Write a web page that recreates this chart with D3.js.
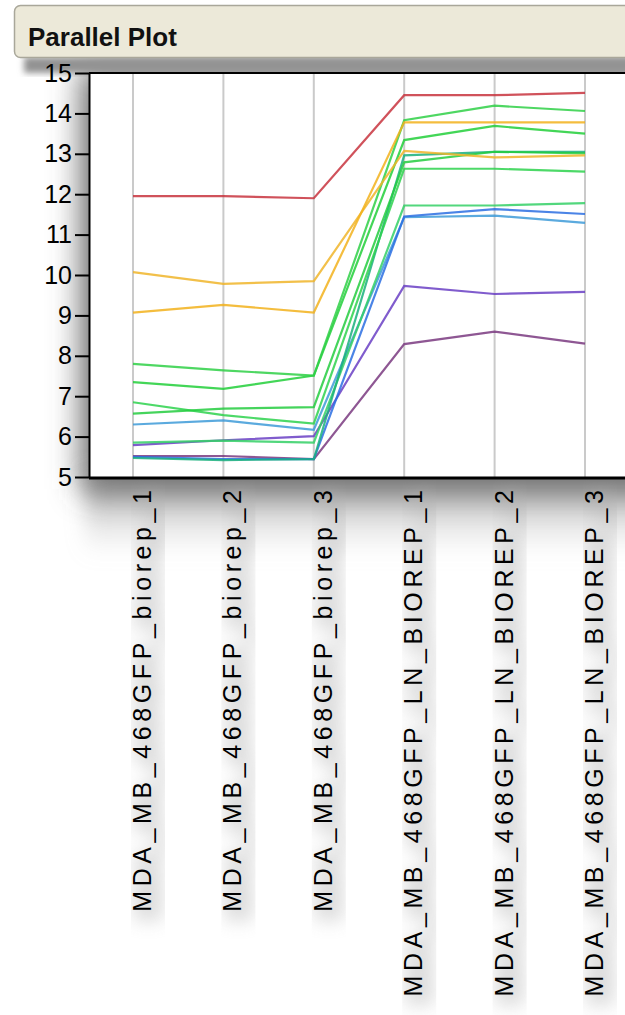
<!DOCTYPE html>
<html>
<head>
<meta charset="utf-8">
<script src="https://cdn.jsdelivr.net/npm/d3@7"></script>
<style>
  html, body { margin: 0; padding: 0; background: #fff; }
  svg { display: block; font-family: "Liberation Sans", Arial, sans-serif; }
</style>
</head>
<body>
<div class="chart"></div>
<script>
// Columns of the parallel plot
var columns = [
    "MDA_MB_468GFP_biorep_1",
    "MDA_MB_468GFP_biorep_2",
    "MDA_MB_468GFP_biorep_3",
    "MDA_MB_468GFP_LN_BIOREP_1",
    "MDA_MB_468GFP_LN_BIOREP_2",
    "MDA_MB_468GFP_LN_BIOREP_3"
];

// One row of values per line
var redRow        = [11.95, 11.95, 11.90, 14.45, 14.45, 14.51];
var orangeRowA    = [10.07, 9.78, 9.85, 13.07, 12.91, 12.96];
var orangeRowB    = [9.07, 9.26, 9.07, 13.78, 13.78, 13.78];
var greenRow1     = [7.80, 7.64, 7.51, 13.83, 14.19, 14.06];
var greenRow2     = [7.35, 7.18, 7.51, 13.34, 13.69, 13.50];
var greenRow3     = [6.85, 6.53, 6.32, 12.63, 12.63, 12.56];
var greenRow4     = [6.57, 6.69, 6.73, 12.79, 13.05, 13.01];
var greenRow5     = [5.85, 5.90, 5.85, 11.72, 11.72, 11.78];
var tealRow       = [5.47, 5.42, 5.44, 12.96, 13.05, 13.05];
var lightBlueRow  = [6.30, 6.40, 6.17, 11.43, 11.47, 11.29];
var blueRow       = [5.50, 5.44, 5.44, 11.45, 11.63, 11.51];
var purpleRow     = [5.79, 5.91, 6.01, 9.73, 9.53, 9.58];
var darkPurpleRow = [5.52, 5.52, 5.44, 8.29, 8.60, 8.30];

var yTicks = [5, 6, 7, 8, 9, 10, 11, 12, 13, 14, 15];

var rows = [
    {name: "darkPurple", values: darkPurpleRow},
    {name: "purple", values: purpleRow},
    {name: "lightBlue", values: lightBlueRow},
    {name: "blue", values: blueRow},
    {name: "green5", values: greenRow5},
    {name: "teal", values: tealRow},
    {name: "green3", values: greenRow3},
    {name: "green4", values: greenRow4},
    {name: "green2", values: greenRow2},
    {name: "green1", values: greenRow1},
    {name: "orangeA", values: orangeRowA},
    {name: "orangeB", values: orangeRowB},
    {name: "red", values: redRow}
];

var color = d3.scaleOrdinal()
    .domain(["red", "orangeA", "orangeB", "green1", "green2", "green3", "green4", "green5", "teal", "lightBlue", "blue", "purple", "darkPurple"])
    .range(["#c8343e", "#f0b52a", "#f2b21c", "#2fd047", "#22cf3a", "#2ed24e", "#25cc40", "#34d066", "#1ab07c", "#3e9bd8", "#2b6fe2", "#6a40c4", "#7a3a80"]);

var svgWidth = 625;
var svgHeight = 1015;

// plot frame, runs off the right edge like the original window
var frame = {left: 89, top: 73, right: 720, bottom: 477};

var svg = d3.select(".chart")
    .append("svg")
    .attr("width", svgWidth)
    .attr("height", svgHeight);

var defs = svg.append("defs");
defs.append("filter").attr("id", "blurBig")
    .attr("x", "-20%").attr("y", "-20%").attr("width", "140%").attr("height", "140%")
    .append("feGaussianBlur").attr("stdDeviation", 16);
defs.append("filter").attr("id", "blurSmall")
    .attr("x", "-20%").attr("y", "-20%").attr("width", "140%").attr("height", "140%")
    .append("feGaussianBlur").attr("stdDeviation", 3);
defs.append("filter").attr("id", "blurBand")
    .attr("x", "-20%").attr("y", "-40%").attr("width", "140%").attr("height", "180%")
    .append("feGaussianBlur").attr("stdDeviation", 10);
defs.append("filter").attr("id", "blurLabel")
    .attr("x", "-50%").attr("y", "-10%").attr("width", "200%").attr("height", "120%")
    .append("feGaussianBlur").attr("stdDeviation", 9);

var bandGrad = defs.append("linearGradient")
    .attr("id", "bandGrad")
    .attr("x1", 0).attr("y1", 0).attr("x2", 0).attr("y2", 1);
bandGrad.append("stop").attr("offset", "0%").attr("stop-color", "#6e6e6e").attr("stop-opacity", 0.75);
bandGrad.append("stop").attr("offset", "35%").attr("stop-color", "#8a8a8a").attr("stop-opacity", 0.45);
bandGrad.append("stop").attr("offset", "100%").attr("stop-color", "#bbbbbb").attr("stop-opacity", 0);

// Scales
var x = d3.scalePoint()
    .domain(columns)
    .range([133, 585]);

var y = d3.scaleLinear()
    .domain([5, 15])
    .range([frame.bottom, frame.top]);

// drop shadow behind the plot frame
svg.append("rect")
    .attr("x", frame.left - 6)
    .attr("y", frame.top - 4)
    .attr("width", frame.right - frame.left)
    .attr("height", frame.bottom - frame.top + 16)
    .attr("fill", "#5a5a5a")
    .attr("filter", "url(#blurBig)");

// gray band under the x axis
svg.append("rect")
    .attr("x", 85)
    .attr("y", frame.bottom - 6)
    .attr("width", 700)
    .attr("height", 86)
    .attr("fill", "url(#bandGrad)")
    .attr("filter", "url(#blurBand)");

// darker band between the title bar and the plot
svg.append("rect")
    .attr("x", 24)
    .attr("y", 57)
    .attr("width", 700)
    .attr("height", 16)
    .attr("fill", "#939393")
    .attr("filter", "url(#blurSmall)");

// soft shadows behind the column labels
var labelSize = 25;
var labelLetterSpacing = 4.6;
svg.append("g")
    .selectAll("text")
    .data(columns)
    .enter()
    .append("text")
    .attr("transform", d => `translate(${x(d) + 24}, ${496 - labelLetterSpacing}) rotate(-90)`)
    .attr("text-anchor", "end")
    .style("font-size", labelSize + "px")
    .style("letter-spacing", labelLetterSpacing + "px")
    .attr("fill", "#b0b0b0")
    .attr("stroke", "#b0b0b0")
    .attr("stroke-width", 10)
    .attr("opacity", 0.45)
    .attr("filter", "url(#blurLabel)")
    .text(d => d);

// white plot area
svg.append("rect")
    .attr("x", frame.left)
    .attr("y", frame.top)
    .attr("width", frame.right - frame.left)
    .attr("height", frame.bottom - frame.top)
    .attr("fill", "#fff");

// title bar
svg.append("rect")
    .attr("x", 14.5)
    .attr("y", 5.5)
    .attr("width", 720)
    .attr("height", 52)
    .attr("rx", 6)
    .attr("fill", "#ece9d9")
    .attr("stroke", "#a9a79a")
    .attr("stroke-width", 1.5);

svg.append("text")
    .attr("x", 28)
    .attr("y", 46)
    .style("font-size", "26px")
    .style("font-weight", "bold")
    .attr("fill", "#111")
    .text("Parallel Plot");

// vertical grid line for each column
svg.append("g")
    .selectAll("line")
    .data(columns)
    .enter()
    .append("line")
    .attr("x1", d => x(d))
    .attr("x2", d => x(d))
    .attr("y1", frame.top)
    .attr("y2", frame.bottom)
    .attr("stroke", "#cacaca")
    .attr("stroke-width", 2);

// the lines
var line = d3.line()
    .x((v, i) => x(columns[i]))
    .y(v => y(v));

svg.append("g")
    .selectAll("path")
    .data(rows)
    .enter()
    .append("path")
    .attr("d", d => line(d.values))
    .attr("fill", "none")
    .attr("stroke", d => color(d.name))
    .attr("stroke-width", 2.2)
    .attr("stroke-opacity", 0.85);

// frame lines top and bottom
svg.append("line")
    .attr("x1", frame.left).attr("x2", frame.right)
    .attr("y1", frame.top).attr("y2", frame.top)
    .attr("stroke", "#000").attr("stroke-width", 2);

svg.append("line")
    .attr("x1", frame.left).attr("x2", frame.right)
    .attr("y1", frame.bottom + 1).attr("y2", frame.bottom + 1)
    .attr("stroke", "#000").attr("stroke-width", 3);

// y axis
var leftAxis = d3.axisLeft(y)
    .tickValues(yTicks)
    .tickFormat(d3.format("d"))
    .tickSize(14)
    .tickSizeOuter(0)
    .tickPadding(3);

var yAxisG = svg.append("g")
    .attr("transform", `translate(${frame.left}, 0)`)
    .call(leftAxis);

yAxisG.select(".domain")
    .attr("stroke", "#000")
    .attr("stroke-width", 2);
yAxisG.selectAll(".tick line")
    .attr("stroke", "#000")
    .attr("stroke-width", 2);
yAxisG.selectAll(".tick text")
    .style("font-size", "25px")
    .style("font-family", "'Liberation Sans', Arial, sans-serif")
    .attr("fill", "#000");

// column labels
svg.append("g")
    .selectAll("text")
    .data(columns)
    .enter()
    .append("text")
    .attr("transform", d => `translate(${x(d) + 18}, ${490 - labelLetterSpacing}) rotate(-90)`)
    .attr("text-anchor", "end")
    .style("font-size", labelSize + "px")
    .style("letter-spacing", labelLetterSpacing + "px")
    .attr("fill", "#000")
    .text(d => d);
</script>
</body>
</html>
